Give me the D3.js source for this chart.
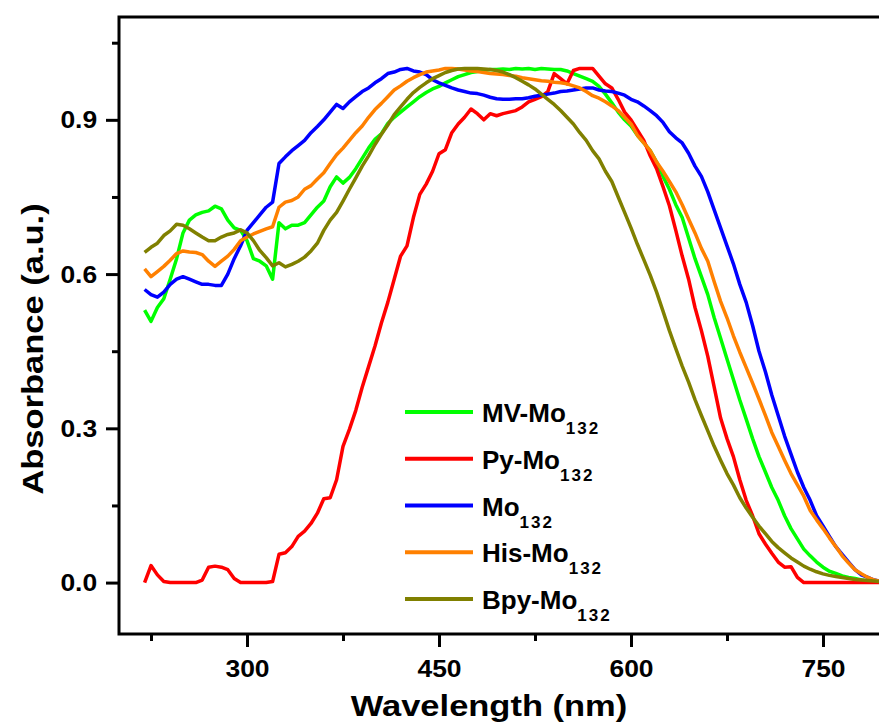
<!DOCTYPE html>
<html>
<head>
<meta charset="utf-8">
<script src="https://cdn.jsdelivr.net/npm/d3@7/dist/d3.min.js"></script>
<style>
body { margin: 0; background: #fff; }
text { font-family: Arial, "Liberation Sans", sans-serif; font-weight: bold; fill: #000; }
</style>
</head>
<body>
<div id="chart-area"></div>
<script>
// wavelength grid (nm) and normalised absorbance
var wavelengths = [
	220, 225, 230, 235, 240, 245, 250, 255, 260, 265,
	270, 275, 280, 285, 290, 295, 300, 305, 310, 315,
	320, 325, 330, 335, 340, 345, 350, 355, 360, 365,
	370, 375, 380, 385, 390, 395, 400, 405, 410, 415,
	420, 425, 430, 435, 440, 445, 450, 455, 460, 465,
	470, 475, 480, 485, 490, 495, 500, 505, 510, 515,
	520, 525, 530, 535, 540, 545, 550, 555, 560, 565,
	570, 575, 580, 585, 590, 595, 600, 605, 610, 615,
	620, 625, 630, 635, 640, 645, 650, 655, 660, 665,
	670, 675, 680, 685, 690, 695, 700, 705, 710, 715,
	720, 725, 730, 735, 740, 745, 750, 755, 760, 765,
	770, 775, 780, 785, 790, 795, 800]

var mvMo132 = [
	0.530, 0.508, 0.535, 0.552, 0.590, 0.630, 0.680, 0.705, 0.715, 0.720,
	0.723, 0.732, 0.727, 0.705, 0.690, 0.685, 0.665, 0.630, 0.625, 0.616,
	0.590, 0.700, 0.688, 0.695, 0.695, 0.700, 0.715, 0.730, 0.742, 0.770,
	0.789, 0.777, 0.788, 0.805, 0.825, 0.845, 0.862, 0.873, 0.893, 0.905,
	0.915, 0.925, 0.935, 0.945, 0.953, 0.960, 0.965, 0.972, 0.978, 0.984,
	0.988, 0.992, 0.994, 0.996, 0.998, 0.998, 0.999, 0.998, 1.000, 0.999,
	1.000, 0.998, 1.000, 0.999, 0.998, 0.998, 0.995, 0.990, 0.985, 0.980,
	0.975, 0.965, 0.950, 0.933, 0.915, 0.900, 0.888, 0.870, 0.855, 0.840,
	0.818, 0.790, 0.765, 0.735, 0.710, 0.670, 0.630, 0.595, 0.560, 0.515,
	0.475, 0.435, 0.395, 0.355, 0.318, 0.280, 0.245, 0.215, 0.185, 0.160,
	0.130, 0.105, 0.085, 0.065, 0.052, 0.040, 0.030, 0.022, 0.018, 0.013,
	0.010, 0.008, 0.005, 0.003, 0.002, 0.001, 0.000]

var pyMo132 = [
	0.000, 0.033, 0.015, 0.002, 0.000, 0.000, 0.000, 0.000, 0.000, 0.005,
	0.030, 0.032, 0.030, 0.025, 0.008, 0.000, 0.000, 0.000, 0.000, 0.000,
	0.002, 0.055, 0.058, 0.070, 0.090, 0.100, 0.115, 0.135, 0.163, 0.165,
	0.200, 0.265, 0.298, 0.335, 0.380, 0.420, 0.460, 0.505, 0.545, 0.590,
	0.635, 0.655, 0.710, 0.755, 0.775, 0.800, 0.834, 0.842, 0.875, 0.892,
	0.905, 0.921, 0.912, 0.900, 0.912, 0.908, 0.912, 0.915, 0.918, 0.925,
	0.935, 0.940, 0.945, 0.955, 0.990, 0.980, 0.970, 0.996, 1.000, 1.000,
	1.000, 0.985, 0.970, 0.962, 0.940, 0.915, 0.900, 0.880, 0.860, 0.830,
	0.805, 0.770, 0.733, 0.685, 0.635, 0.590, 0.535, 0.490, 0.440, 0.380,
	0.320, 0.280, 0.245, 0.200, 0.160, 0.130, 0.095, 0.075, 0.057, 0.040,
	0.030, 0.031, 0.010, 0.000, 0.000, 0.000, 0.000, 0.000, 0.000, 0.000,
	0.000, 0.000, 0.000, 0.000, 0.000, 0.000, 0.000]

var mo132 = [
	0.570, 0.560, 0.555, 0.565, 0.580, 0.590, 0.595, 0.590, 0.585, 0.580,
	0.580, 0.578, 0.578, 0.600, 0.630, 0.655, 0.685, 0.700, 0.715, 0.730,
	0.740, 0.815, 0.828, 0.840, 0.850, 0.860, 0.875, 0.887, 0.900, 0.915,
	0.930, 0.922, 0.935, 0.945, 0.955, 0.962, 0.972, 0.980, 0.990, 0.993,
	0.998, 1.000, 0.995, 0.993, 0.988, 0.978, 0.972, 0.967, 0.962, 0.958,
	0.955, 0.952, 0.951, 0.948, 0.944, 0.941, 0.940, 0.940, 0.941, 0.941,
	0.943, 0.946, 0.948, 0.950, 0.952, 0.955, 0.956, 0.958, 0.960, 0.962,
	0.962, 0.958, 0.956, 0.955, 0.952, 0.948, 0.940, 0.935, 0.927, 0.918,
	0.908, 0.895, 0.877, 0.865, 0.855, 0.835, 0.810, 0.790, 0.760, 0.725,
	0.690, 0.655, 0.620, 0.580, 0.545, 0.500, 0.450, 0.410, 0.365, 0.325,
	0.285, 0.250, 0.215, 0.185, 0.160, 0.130, 0.110, 0.090, 0.070, 0.055,
	0.040, 0.025, 0.015, 0.010, 0.005, 0.002, 0.000]

var hisMo132 = [
	0.610, 0.595, 0.605, 0.615, 0.627, 0.640, 0.645, 0.643, 0.642, 0.638,
	0.625, 0.615, 0.625, 0.635, 0.648, 0.665, 0.672, 0.678, 0.683, 0.688,
	0.692, 0.730, 0.740, 0.743, 0.750, 0.765, 0.772, 0.785, 0.797, 0.815,
	0.832, 0.845, 0.860, 0.875, 0.888, 0.905, 0.920, 0.932, 0.945, 0.958,
	0.966, 0.975, 0.982, 0.988, 0.993, 0.995, 0.997, 1.000, 1.000, 0.999,
	0.997, 0.995, 0.994, 0.992, 0.990, 0.989, 0.988, 0.986, 0.985, 0.982,
	0.980, 0.978, 0.976, 0.975, 0.973, 0.972, 0.970, 0.966, 0.962, 0.955,
	0.947, 0.942, 0.935, 0.927, 0.918, 0.905, 0.892, 0.870, 0.855, 0.840,
	0.818, 0.800, 0.780, 0.760, 0.735, 0.707, 0.680, 0.650, 0.625, 0.585,
	0.547, 0.515, 0.480, 0.448, 0.418, 0.388, 0.357, 0.325, 0.292, 0.265,
	0.238, 0.212, 0.190, 0.168, 0.140, 0.122, 0.105, 0.087, 0.070, 0.052,
	0.038, 0.025, 0.017, 0.010, 0.005, 0.002, 0.000]

var bpyMo132 = [
	0.642, 0.652, 0.660, 0.675, 0.684, 0.697, 0.695, 0.688, 0.680, 0.672,
	0.665, 0.665, 0.672, 0.677, 0.680, 0.686, 0.680, 0.665, 0.646, 0.632,
	0.616, 0.622, 0.614, 0.619, 0.625, 0.633, 0.645, 0.660, 0.685, 0.705,
	0.720, 0.742, 0.765, 0.787, 0.810, 0.830, 0.852, 0.872, 0.890, 0.910,
	0.925, 0.940, 0.953, 0.963, 0.972, 0.980, 0.986, 0.992, 0.996, 0.999,
	1.000, 1.000, 1.000, 0.999, 0.998, 0.996, 0.993, 0.988, 0.982, 0.975,
	0.968, 0.960, 0.950, 0.940, 0.930, 0.918, 0.905, 0.892, 0.875, 0.860,
	0.840, 0.824, 0.800, 0.780, 0.750, 0.720, 0.690, 0.658, 0.628, 0.598,
	0.565, 0.528, 0.490, 0.455, 0.421, 0.390, 0.356, 0.325, 0.295, 0.265,
	0.238, 0.212, 0.190, 0.165, 0.145, 0.127, 0.110, 0.095, 0.080, 0.068,
	0.058, 0.048, 0.040, 0.032, 0.026, 0.021, 0.017, 0.014, 0.012, 0.010,
	0.008, 0.006, 0.005, 0.004, 0.003, 0.002, 0.001]

var seriesNames = ["MV-Mo", "Py-Mo", "Mo", "His-Mo", "Bpy-Mo"]
var seriesSub = "132"
var seriesColors = ["#00ff00", "#ff0000", "#0000ff", "#ff8000", "#808000"]
var seriesValues = [mvMo132, pyMo132, mo132, hisMo132, bpyMo132]

var xTicks = [300, 450, 600, 750]
var xMinorTicks = [225, 375, 525, 675]
var yTicks = [0.0, 0.3, 0.6, 0.9]
var yMinorTicks = [0.15, 0.45, 0.75, 1.05]

var margin = { left: 119, top: 17 }
var width = 768, height = 617

var svg = d3.select("#chart-area")
	.append("svg")
		.attr("width", 879)
		.attr("height", 725)
var g = svg.append("g")
	.attr("transform", "translate(" + margin.left + "," + margin.top + ")")

// scales
var x = d3.scaleLinear().domain([200, 800]).range([0, width])
var y = d3.scaleLinear().domain([-0.1, 1.1]).range([height, 0])

// curves
var line = d3.line()
	.x((d, i) => x(wavelengths[i]))
	.y(d => y(d))

seriesValues.forEach((vals, k) => {
	g.append("path")
		.datum(vals)
		.attr("fill", "none")
		.attr("stroke", seriesColors[k])
		.attr("stroke-width", 3.5)
		.attr("stroke-linejoin", "round")
		.attr("d", line)
})

// frame
g.append("rect")
	.attr("width", width)
	.attr("height", height)
	.attr("fill", "none")
	.attr("stroke", "#000")
	.attr("stroke-width", 3)

// axes
var xAxis = g.append("g")
	.attr("transform", "translate(0," + height + ")")
	.call(d3.axisBottom(x).tickValues(xTicks).tickSize(13).tickSizeOuter(0))
xAxis.append("g")
	.call(d3.axisBottom(x).tickValues(xMinorTicks).tickSize(7).tickFormat(""))
xAxis.selectAll(".domain").remove()
xAxis.selectAll(".tick text")
	.attr("y", 27)
	.attr("dy", "0.71em")
	.attr("font-size", "23px")
	.attr("transform", "scale(1.15,1)")

var yAxis = g.append("g")
	.call(d3.axisLeft(y).tickValues(yTicks).tickSize(13).tickSizeOuter(0)
		.tickFormat(d3.format(".1f")))
yAxis.append("g")
	.call(d3.axisLeft(y).tickValues(yMinorTicks).tickSize(7).tickFormat(""))
yAxis.selectAll(".domain").remove()
yAxis.selectAll(".tick text")
	.attr("x", -19)
	.attr("dy", "0.35em")
	.attr("font-size", "23px")
	.attr("transform", "scale(1.15,1)")

svg.selectAll(".tick line")
	.attr("stroke", "#000")
	.attr("stroke-width", 3)

// axis titles
svg.append("text")
	.attr("transform", "translate(489,716) scale(1.15,1)")
	.attr("text-anchor", "middle")
	.attr("font-size", "30px")
	.text("Wavelength (nm)")
svg.append("text")
	.attr("transform", "translate(43,349) rotate(-90) scale(1.15,1)")
	.attr("text-anchor", "middle")
	.attr("font-size", "30px")
	.text("Absorbance (a.u.)")

// legend
var legend = svg.append("g")
	.attr("transform", "translate(405,412)")

seriesNames.forEach((name, i) => {
	var row = legend.append("g")
		.attr("transform", "translate(0," + (i * 46.75) + ")")
	row.append("line")
		.attr("x1", 0)
		.attr("x2", 68)
		.attr("stroke", seriesColors[i])
		.attr("stroke-width", 4)
	var t = row.append("text")
		.attr("x", 77)
		.attr("y", 10)
		.attr("font-size", "26px")
	t.append("tspan").text(name)
	t.append("tspan")
		.attr("dy", 12)
		.attr("font-size", "17px")
		.attr("letter-spacing", "2px")
		.text(seriesSub)
})
</script>
</body>
</html>
